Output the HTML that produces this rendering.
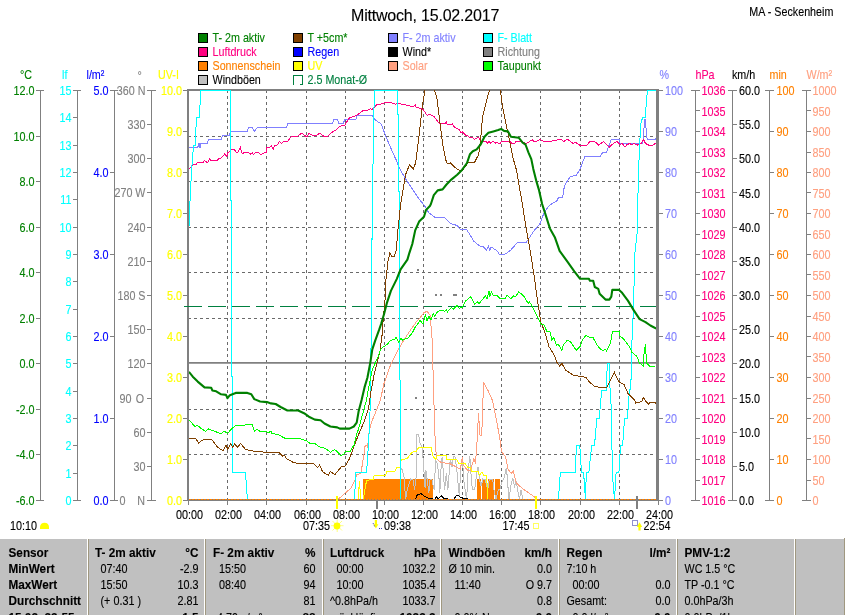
<!DOCTYPE html>
<html lang="de"><head><meta charset="utf-8"><title>Mittwoch, 15.02.2017 - MA - Seckenheim</title>
<style>
html,body{margin:0;padding:0;background:#fff;}
body{width:845px;height:615px;overflow:hidden;font-family:"Liberation Sans", Arial, sans-serif;}
svg{display:block;position:absolute;left:0;top:0;will-change:transform;}
text{font-family:"Liberation Sans", Arial, sans-serif;font-size:12px;stroke-width:0.12px;}
.al{letter-spacing:0;}
.b{font-weight:bold;font-size:12px;}
.c{shape-rendering:crispEdges;fill:none;}
.ax{stroke:#808080;stroke-width:1;shape-rendering:crispEdges;fill:none;}
.gr{stroke:#6a6a6a;stroke-width:1;stroke-dasharray:3 3;shape-rendering:crispEdges;fill:none;}
</style></head><body>
<svg width="845" height="615" viewBox="0 0 845 615">
<defs><clipPath id="pc"><rect x="189" y="90" width="467" height="410"/></clipPath></defs><rect x="0" y="0" width="845" height="615" fill="#ffffff"/>

<text x="351" y="21" style="font-size:16px;letter-spacing:-0.2px" fill="#000" stroke="#000">Mittwoch, 15.02.2017</text>
<text transform="translate(749.3,15.6) scale(0.895,1)" fill="#000" stroke="#000">MA - Seckenheim</text>
<rect x="198.5" y="33.5" width="9" height="9" fill="#008000" stroke="#000" stroke-width="1" shape-rendering="crispEdges"/>
<text transform="translate(212.5,42) scale(0.895,1)" fill="#008000" stroke="#008000">T- 2m aktiv</text>
<rect x="198.5" y="47.5" width="9" height="9" fill="#ff0080" stroke="#000" stroke-width="1" shape-rendering="crispEdges"/>
<text transform="translate(212.5,56) scale(0.895,1)" fill="#ff0080" stroke="#ff0080">Luftdruck</text>
<rect x="198.5" y="61.5" width="9" height="9" fill="#ff8000" stroke="#000" stroke-width="1" shape-rendering="crispEdges"/>
<text transform="translate(212.5,70) scale(0.895,1)" fill="#ff8000" stroke="#ff8000">Sonnenschein</text>
<rect x="198.5" y="75.5" width="9" height="9" fill="#c0c0c0" stroke="#000" stroke-width="1" shape-rendering="crispEdges"/>
<text transform="translate(212.5,84) scale(0.895,1)" fill="#000000" stroke="#000000">Windböen</text>
<rect x="293.5" y="33.5" width="9" height="9" fill="#804000" stroke="#000" stroke-width="1" shape-rendering="crispEdges"/>
<text transform="translate(307.5,42) scale(0.895,1)" fill="#008000" stroke="#008000">T +5cm*</text>
<rect x="293.5" y="47.5" width="9" height="9" fill="#0000ff" stroke="#000" stroke-width="1" shape-rendering="crispEdges"/>
<text transform="translate(307.5,56) scale(0.895,1)" fill="#0000ff" stroke="#0000ff">Regen</text>
<rect x="293.5" y="61.5" width="9" height="9" fill="#ffff00" stroke="#000" stroke-width="1" shape-rendering="crispEdges"/>
<text transform="translate(307.5,70) scale(0.895,1)" fill="#ffff00" stroke="#ffff00">UV</text>
<path d="M293.5 84.5V75.5H302.5V84.5H299.5" fill="none" stroke="#008040" stroke-width="1" shape-rendering="crispEdges"/>
<text transform="translate(307.5,84) scale(0.895,1)" fill="#008040" stroke="#008040">2.5 Monat-Ø</text>
<rect x="388.5" y="33.5" width="9" height="9" fill="#8080ff" stroke="#000" stroke-width="1" shape-rendering="crispEdges"/>
<text transform="translate(402.5,42) scale(0.895,1)" fill="#8080ff" stroke="#8080ff">F- 2m aktiv</text>
<rect x="388.5" y="47.5" width="9" height="9" fill="#000000" stroke="#000" stroke-width="1" shape-rendering="crispEdges"/>
<text transform="translate(402.5,56) scale(0.895,1)" fill="#000000" stroke="#000000">Wind*</text>
<rect x="388.5" y="61.5" width="9" height="9" fill="#ffa080" stroke="#000" stroke-width="1" shape-rendering="crispEdges"/>
<text transform="translate(402.5,70) scale(0.895,1)" fill="#ffa080" stroke="#ffa080">Solar</text>
<rect x="483.5" y="33.5" width="9" height="9" fill="#00ffff" stroke="#000" stroke-width="1" shape-rendering="crispEdges"/>
<text transform="translate(497.5,42) scale(0.895,1)" fill="#00ffff" stroke="#00ffff">F- Blatt</text>
<rect x="483.5" y="47.5" width="9" height="9" fill="#808080" stroke="#000" stroke-width="1" shape-rendering="crispEdges"/>
<text transform="translate(497.5,56) scale(0.895,1)" fill="#808080" stroke="#808080">Richtung</text>
<rect x="483.5" y="61.5" width="9" height="9" fill="#00ff00" stroke="#000" stroke-width="1" shape-rendering="crispEdges"/>
<text transform="translate(497.5,70) scale(0.895,1)" fill="#008000" stroke="#008000">Taupunkt</text>
<line class="gr" x1="227.5" y1="90" x2="227.5" y2="499"/>
<line class="gr" x1="266.5" y1="90" x2="266.5" y2="499"/>
<line class="gr" x1="306.5" y1="90" x2="306.5" y2="499"/>
<line class="gr" x1="345.5" y1="90" x2="345.5" y2="499"/>
<line class="gr" x1="384.5" y1="90" x2="384.5" y2="499"/>
<line class="gr" x1="423.5" y1="90" x2="423.5" y2="499"/>
<line class="gr" x1="462.5" y1="90" x2="462.5" y2="499"/>
<line class="gr" x1="501.5" y1="90" x2="501.5" y2="499"/>
<line class="gr" x1="540.5" y1="90" x2="540.5" y2="499"/>
<line class="gr" x1="580.5" y1="90" x2="580.5" y2="499"/>
<line class="gr" x1="619.5" y1="90" x2="619.5" y2="499"/>
<line class="gr" x1="188" y1="454.5" x2="656" y2="454.5"/>
<line class="gr" x1="188" y1="409.5" x2="656" y2="409.5"/>
<line class="gr" x1="188" y1="318.5" x2="656" y2="318.5"/>
<line class="gr" x1="188" y1="272.5" x2="656" y2="272.5"/>
<line class="gr" x1="188" y1="227.5" x2="656" y2="227.5"/>
<line class="gr" x1="188" y1="181.5" x2="656" y2="181.5"/>
<line class="gr" x1="188" y1="136.5" x2="656" y2="136.5"/>
<rect x="187" y="89" width="2" height="412" fill="#808080" shape-rendering="crispEdges"/>
<rect x="656" y="89" width="3" height="412" fill="#808080" shape-rendering="crispEdges"/>
<rect x="187" y="89" width="472" height="2" fill="#808080" shape-rendering="crispEdges"/>
<rect x="187" y="500" width="472" height="1" fill="#808080" shape-rendering="crispEdges"/>
<g clip-path="url(#pc)"><rect x="189" y="362" width="467" height="1" fill="#808080" shape-rendering="crispEdges"/><rect x="189" y="363" width="467" height="1" fill="#a0a0a0" shape-rendering="crispEdges"/>
<line x1="184" y1="306.5" x2="656" y2="306.5" stroke="#008040" stroke-width="1" stroke-dasharray="18 6" shape-rendering="crispEdges"/>
<rect x="363" y="479" width="70" height="21" fill="#ff8000" shape-rendering="crispEdges"/>
<rect x="477" y="479" width="4" height="21" fill="#ff8000" shape-rendering="crispEdges"/>
<rect x="482" y="479" width="5" height="21" fill="#ff8000" shape-rendering="crispEdges"/>
<rect x="488" y="479" width="6" height="21" fill="#ff8000" shape-rendering="crispEdges"/>
<rect x="494.6" y="479" width="5.399999999999977" height="21" fill="#ff8000" shape-rendering="crispEdges"/>
<rect x="417" y="269" width="2" height="2" fill="#808080" shape-rendering="crispEdges"/>
<rect x="435" y="294" width="2" height="2" fill="#808080" shape-rendering="crispEdges"/>
<rect x="440" y="294" width="2" height="2" fill="#808080" shape-rendering="crispEdges"/>
<rect x="415" y="397" width="2" height="2" fill="#808080" shape-rendering="crispEdges"/>
<rect x="453" y="294" width="4" height="2" fill="#808080" shape-rendering="crispEdges"/>
<polyline class="c" points="401.5,467.6 404.0,476.5 405.6,499.3 407.2,489.6 410.5,479.0 412.9,479.8 414.6,489.6 416.2,476.5 417.0,434.3 418.6,434.3 420.2,444.0 421.9,445.7 422.7,453.8 424.3,476.5 425.1,487.9 425.9,470.0 427.6,483.0 428.9,492.8 430.0,479.8 432.0,480.0 434.1,489.6 435.7,460.3 437.3,463.5 438.9,476.5 439.8,492.8 441.4,461.9 442.2,457.0 444.6,489.6 446.3,473.3 447.9,489.6 450.3,458.7 452.0,466.8 453.6,456.2 455.2,457.0 456.8,470.0 459.3,496.0 460.9,466.8 462.5,460.3 464.1,483.0 466.6,499.3 468.2,470.0 469.8,456.2 470.7,470.0 472.3,489.6 474.7,489.6 476.3,476.5 478.0,466.8 479.6,479.8 481.2,486.3 482.8,479.0 485.3,479.8 487.7,489.6 489.3,479.0 492.6,479.0 494.2,491.2 495.9,499.3 498.3,489.6 499.9,489.6 501.5,483.0 504.0,478.2 506.4,467.6 507.2,476.5 508.9,499.3 511.3,483.0 512.9,478.2 514.6,486.3 516.2,481.4 517.8,491.2 519.4,499.3 521.1,489.6 522.7,499.3" stroke="#c0c0c0" stroke-width="1" />
<polyline class="c" points="338.1,499.3 344.6,493.6 351.1,487.9 354.4,481.4 356.8,474.9 360.9,473.3 363.3,458.7 365.0,446.5 366.6,445.3 367.6,447.3 369.0,432.6 371.3,422.6 376.2,410.9 380.1,401.1 384.0,383.5 390.9,364.0 397.7,350.4 403.5,340.6 411.3,328.9 416.2,322.0 420.0,318.0 424.0,312.5 427.0,311.5 430.0,315.0 430.9,325.0 432.2,340.6 432.8,364.0 433.8,393.3 434.3,421.3 435.5,445.7 436.5,458.7 441.4,462.7 449.5,463.5 454.4,466.0 460.1,469.2 462.5,457.0 463.3,465.2 467.4,470.0 470.7,470.0 473.9,458.7 475.5,463.5 477.2,439.1 478.5,413.1 480.1,435.9 481.7,435.9 482.8,405.0 483.5,382.6 488.4,391.3 492.3,400.1 493.4,405.0 496.2,418.7 499.1,434.3 499.9,439.1 501.5,451.3 505.6,457.0 508.0,469.2 511.3,473.3 513.3,470.9 516.2,483.0 522.7,488.7 530.8,494.4 535.7,497.7 537.0,499.3" stroke="#ffa080" stroke-width="1" />
<polyline class="c" points="358.5,499.3 359.3,480.6 360.9,499.3 363.3,499.3 366.6,480.1 373.1,479.8 374.2,475.7 385.3,475.7 386.9,471.7 395.0,471.3 396.7,467.6 399.9,467.6 400.7,461.1 401.5,459.5 407.2,458.7 409.7,455.1 412.1,452.2 416.2,451.3 418.6,447.6 431.6,447.6 432.4,455.4 435.7,459.5 437.3,455.7 446.3,455.7 447.0,459.5 456.8,459.5 458.5,463.2 465.0,463.5 468.2,467.6 470.7,467.6 471.5,471.3 478.0,471.3 479.6,475.2 482.0,471.7 483.7,475.2 486.1,475.7 486.9,479.8 487.7,499.3" stroke="#ffff00" stroke-width="1" />
<polyline class="c" points="415.4,499.3 417.0,495.2 421.1,493.6 424.3,496.0 429.2,498.5 434.9,499.3 436.5,496.9 438.1,498.5 441.4,496.0 443.8,498.5 450.0,499.3 454.0,499.0 456.0,496.0 458.5,495.2 460.9,497.7 465.0,498.5 469.8,499.3" stroke="#000000" stroke-width="1" />
<polyline class="c" points="189.0,147.5 197.7,147.5 199.0,143.5 200.0,147.5 201.0,143.5 207.4,143.5 208.4,139.5 221.0,139.5 222.5,135.5 229.5,135.5 230.5,131.5 247.4,131.5 248.4,127.5 252.3,127.5 254.3,131.5 257.2,127.5 286.5,127.5 288.0,123.5 332.3,123.5 334.0,119.5 337.2,119.5 339.0,123.5 343.0,123.5 345.0,119.5 356.0,119.5 357.0,115.5 372.3,115.5 374.3,119.1 381.1,124.0 386.0,136.7 391.8,150.4 396.7,161.1 398.7,167.0 405.5,178.7 413.3,190.4 419.1,199.1 424.0,205.0 428.9,212.8 434.8,217.1 444.5,217.7 450.4,223.5 457.2,225.5 460.1,229.4 467.0,230.0 473.8,241.1 479.6,246.0 483.5,247.0 486.5,249.9 488.4,246.4 489.8,249.9 491.3,247.0 497.2,250.9 499.1,254.2 505.0,254.2 507.0,252.8 510.9,249.9 517.7,242.1 526.5,242.1 534.3,230.4 540.1,223.5 544.0,212.8 548.9,206.0 552.8,203.0 556.7,201.0 558.7,197.2 562.6,197.2 564.5,185.5 570.4,176.3 576.2,175.7 580.1,168.9 585.0,156.2 600.6,156.2 602.6,152.3 606.5,152.3 611.3,139.2 619.1,139.2 620.1,143.1 642.6,143.1 643.5,137.7 644.5,119.1 645.5,119.1 646.5,135.7 647.4,139.2 655.2,139.2 656.8,136.1" stroke="#8080ff" stroke-width="1" />
<polyline class="c" points="188.0,168.5 190.7,167.7 192.5,164.7 196.0,164.5 197.8,162.3 203.2,162.1 204.3,160.2 206.7,162.3 208.0,162.3 209.4,158.6 210.9,160.2 217.4,160.2 219.1,158.6 221.5,157.8 224.5,154.1 226.8,156.4 228.0,152.6 229.8,151.7 231.0,149.6 234.5,149.6 236.3,152.3 238.0,152.0 240.4,147.2 242.2,154.1 244.0,152.6 248.7,152.6 250.9,154.3 252.3,152.9 253.5,154.3 255.8,152.6 258.4,152.6 260.8,154.6 264.7,152.6 266.2,152.3 266.7,147.5 270.0,147.2 271.4,145.5 273.3,149.3 274.5,146.0 277.1,145.2 279.7,141.3 281.3,143.4 283.6,141.3 286.0,141.0 288.0,141.0 291.0,137.0 294.0,136.5 298.0,136.0 302.0,133.0 304.0,135.0 307.0,137.0 309.0,133.5 313.0,135.5 316.0,136.0 320.0,133.0 324.0,136.5 327.0,137.0 330.0,134.0 333.0,131.5 336.0,130.0 339.0,127.0 342.0,125.5 345.0,125.0 349.0,118.2 356.7,115.2 363.5,110.4 366.0,111.0 370.4,108.8 372.0,109.5 377.2,104.5 381.0,104.0 385.0,102.6 391.8,103.0 395.7,104.1 397.0,103.2 403.5,104.5 408.0,105.5 413.3,106.9 415.2,104.5 416.2,107.4 419.0,108.0 423.0,109.4 427.0,115.2 430.0,114.5 433.8,116.2 438.7,123.0 440.0,123.7 444.9,123.7 446.3,121.8 447.3,124.9 451.2,124.7 452.2,123.7 454.1,126.8 456.1,128.3 459.5,129.8 461.0,132.7 462.4,131.7 465.4,135.1 467.0,135.1 469.3,137.4 472.2,137.4 474.6,139.5 477.6,137.4 479.0,138.0 481.0,141.0 485.9,141.3 487.3,143.4 488.8,141.5 490.7,143.4 492.7,141.3 495.6,143.4 496.2,142.0 498.5,143.4 500.0,143.4 501.5,141.3 510.2,141.3 511.7,143.4 514.6,143.4 516.1,141.5 520.0,141.0 526.5,143.5 532.3,139.6 534.0,141.6 536.2,141.6 540.1,139.6 544.0,141.6 551.8,141.0 561.6,139.2 563.5,141.6 567.4,139.2 573.3,143.5 575.2,142.0 580.1,145.5 587.0,145.1 589.9,141.6 594.8,141.6 598.7,145.1 603.5,141.6 609.4,147.0 614.3,142.6 617.2,141.6 620.1,144.5 622.0,143.5 625.0,147.0 627.0,144.5 629.9,143.5 632.0,145.0 634.0,143.5 637.7,145.1 641.0,143.5 643.5,139.6 645.5,143.5 649.4,145.5 652.0,145.5 655.2,143.5 656.0,143.5" stroke="#ff0080" stroke-width="1" />
<polyline class="c" points="189.0,226.5 189.8,205.0 191.3,175.0 193.1,150.5 193.7,145.3 195.2,145.3 195.7,130.4 196.9,117.3 199.6,117.3 200.5,90.5 230.5,90.5 230.5,200.0 231.5,200.0 231.5,376.0 232.5,376.0 232.5,472.7 245.5,472.7 247.4,499.5 354.4,499.5 356.0,472.7 366.6,472.7 368.4,445.0 369.0,434.3 370.3,405.0 371.3,325.0 372.3,205.0 374.3,90.5 397.7,90.5 399.2,205.0 399.6,325.0 400.2,405.0 400.4,499.5 558.4,499.5 560.3,472.7 575.0,472.7 576.6,445.3 579.8,445.3 581.5,472.7 583.6,472.7 585.5,499.5 586.3,472.7 588.8,472.7 591.7,445.3 594.5,445.3 596.9,418.0 599.3,418.0 601.6,390.7 606.1,390.7 607.4,363.3 609.4,363.3 610.4,403.0 611.5,405.0 611.9,445.7 612.8,479.8 614.5,499.5 616.1,472.7 618.9,472.7 620.5,445.3 622.6,445.3 624.6,418.0 627.5,418.0 628.9,397.2 629.9,390.7 631.4,375.7 631.8,344.5 632.8,324.0 633.8,294.8 634.8,253.8 637.7,228.4 637.7,205.0 638.7,167.0 640.6,125.0 642.6,117.2 645.1,117.2 647.4,90.5 656.0,90.5" stroke="#00ffff" stroke-width="1" />
<polyline class="c" points="188.9,438.3 195.7,438.3 198.7,443.0 201.6,440.6 206.5,439.0 211.3,439.0 217.2,446.9 223.0,450.8 226.0,445.5 227.9,449.4 230.9,443.5 232.8,447.4 234.8,443.5 237.3,447.4 240.6,443.5 245.5,449.4 257.2,451.9 278.7,452.3 282.6,456.2 284.5,455.2 286.5,458.6 293.3,462.5 298.2,463.4 313.8,463.6 317.7,467.5 319.6,465.0 322.6,471.8 328.4,475.3 330.4,471.4 334.9,474.9 336.5,472.5 341.4,466.8 345.4,466.0 349.5,458.7 352.8,449.7 354.8,444.0 358.7,434.3 364.5,420.6 368.4,408.9 371.3,389.4 374.3,373.8 377.2,362.1 380.1,350.4 382.1,334.8 382.7,325.0 385.0,300.6 386.0,279.1 387.9,261.6 389.9,252.8 391.8,256.2 394.2,256.7 396.1,250.9 398.1,228.4 400.6,205.0 405.5,174.8 409.4,165.0 413.3,168.9 415.6,163.0 419.1,135.7 422.1,108.4 425.2,88.0 426.0,70.0 433.0,70.0 433.6,88.0 436.7,96.7 439.6,120.1 442.6,143.5 445.5,159.1 447.4,164.0 450.4,162.7 454.3,167.0 460.1,170.9 462.0,170.9 467.9,163.0 474.8,162.0 478.7,154.3 480.6,139.6 482.6,116.2 484.5,109.4 488.4,93.8 490.6,88.0 491.5,70.0 499.5,70.0 500.0,88.0 502.0,102.6 504.0,114.3 505.0,119.1 508.9,137.7 512.8,157.2 516.7,170.9 519.6,188.4 522.6,205.0 525.5,224.5 530.4,251.8 534.3,277.2 537.2,298.7 541.1,324.0 542.1,325.0 545.0,332.8 548.9,346.5 554.8,356.2 556.7,362.1 559.6,366.0 562.0,363.6 565.5,369.9 573.3,375.3 579.1,376.1 586.0,377.3 588.9,381.6 594.8,386.5 602.6,387.8 606.5,387.8 610.4,380.6 614.3,372.2 618.2,380.6 620.1,382.6 624.0,384.5 627.9,393.3 634.8,400.1 635.7,403.0 641.6,401.5 643.5,397.6 646.5,402.1 648.4,404.0 650.4,402.1 655.2,402.7 656.8,405.4" stroke="#804000" stroke-width="1" />
<polyline class="c" points="188.9,419.6 194.8,426.5 197.7,425.5 200.6,428.0 205.5,431.3 208.4,429.0 212.3,430.4 216.2,431.9 221.1,433.9 224.0,431.3 227.9,433.3 230.9,429.4 235.7,425.5 247.4,424.9 252.3,424.5 254.3,431.3 257.2,429.4 260.1,431.3 267.0,431.9 268.9,432.4 270.9,431.2 271.8,433.2 278.7,434.9 284.5,438.0 298.2,438.0 306.0,440.5 309.9,443.3 314.8,443.5 319.6,446.9 325.5,448.4 330.4,452.3 334.3,449.6 337.2,451.5 340.6,455.4 343.8,454.6 345.4,451.3 350.3,451.3 354.4,444.0 356.7,434.3 358.7,428.4 363.5,410.9 366.5,400.1 369.4,383.5 372.3,369.9 375.2,363.0 378.2,356.2 381.1,348.4 387.0,344.5 390.9,340.2 394.8,339.6 396.1,337.1 398.7,342.6 400.6,338.3 402.6,340.2 408.4,337.7 412.3,332.8 415.2,327.0 417.2,325.0 420.0,320.0 423.0,324.0 425.4,314.3 427.0,321.1 428.9,316.2 430.9,320.1 433.2,313.3 434.8,316.2 437.7,311.3 442.6,310.4 444.5,311.3 446.5,309.4 447.4,311.9 451.3,307.4 453.3,309.4 457.2,305.5 459.1,308.4 462.0,307.4 466.0,300.6 470.9,296.7 474.8,304.5 477.3,301.6 479.2,303.5 485.5,295.7 487.0,298.7 489.0,290.9 489.8,296.7 491.3,291.8 493.3,295.7 497.2,295.7 500.1,298.7 505.0,298.7 507.3,295.1 510.9,298.7 513.8,295.7 515.7,296.7 518.7,291.8 523.5,295.7 526.5,300.6 528.4,303.5 529.4,301.6 532.3,306.5 537.2,316.2 541.1,324.0 544.0,325.0 547.0,331.8 549.9,331.8 551.8,339.6 553.8,337.7 556.7,345.5 558.1,344.1 562.0,350.4 563.5,344.5 567.4,340.2 570.4,341.6 576.2,350.4 580.1,346.5 582.1,340.6 586.0,335.1 588.9,337.1 592.8,337.1 596.7,344.5 600.6,349.4 603.5,350.4 605.5,349.4 606.5,351.3 610.4,343.5 612.3,331.8 619.1,331.2 620.1,336.7 623.0,338.3 629.9,347.4 631.8,352.3 636.7,356.2 639.6,363.0 643.1,366.0 643.9,354.3 645.5,344.5 646.5,363.0 649.4,366.0 655.2,367.0" stroke="#00ff00" stroke-width="1" />
<polyline class="c" points="188.9,371.8 192.8,376.7 197.7,381.6 204.5,387.4 211.3,387.8 212.3,390.4 216.2,391.3 221.1,394.3 226.0,394.9 227.5,398.2 229.9,395.2 235.7,392.9 247.4,392.9 251.3,394.3 254.3,399.1 260.1,401.5 267.0,402.1 270.9,403.4 275.7,404.0 280.6,407.0 287.4,410.5 298.2,410.5 304.0,413.2 308.9,416.7 314.8,419.6 320.6,420.2 324.5,423.5 330.4,426.5 337.2,427.4 339.8,428.6 349.5,428.6 353.8,426.5 356.7,422.6 358.7,410.9 361.6,400.1 364.5,387.4 367.4,377.7 370.4,362.1 372.3,349.4 375.2,340.6 379.1,329.9 381.1,324.0 384.0,314.3 387.0,302.6 390.9,290.9 396.7,279.1 400.6,269.4 407.4,259.6 409.4,252.8 412.3,244.0 415.2,230.4 419.1,221.6 424.0,216.7 426.0,209.9 429.9,206.0 430.9,204.0 433.8,195.2 437.7,190.4 442.6,189.4 446.5,184.5 451.3,179.6 457.2,174.8 462.0,169.9 467.0,163.0 469.9,154.3 472.8,151.3 476.7,149.4 480.6,144.5 484.5,136.7 488.4,132.8 493.3,131.4 498.2,129.9 501.1,128.9 504.0,130.9 508.0,131.4 510.9,136.7 518.7,137.7 522.6,142.6 525.5,144.5 528.4,152.3 531.3,159.1 533.3,168.9 536.2,180.6 539.1,190.4 542.1,204.0 545.0,212.8 549.9,228.4 554.8,237.2 559.6,250.9 567.4,261.6 574.3,271.3 580.1,278.8 588.9,278.8 589.9,280.7 593.2,280.7 594.8,287.0 598.3,288.9 599.6,293.8 605.5,299.6 609.4,299.6 611.3,296.7 612.3,289.9 619.1,289.9 622.1,292.8 627.9,300.6 633.8,310.4 639.6,319.1 645.5,322.1 650.4,325.5 656.2,328.5" stroke="#008000" stroke-width="2.1" stroke-linejoin="round" style="shape-rendering:geometricPrecision"/>
<rect x="189" y="499" width="467" height="1" fill="#808080" shape-rendering="crispEdges"/>
<line x1="189" y1="499.5" x2="656" y2="499.5" stroke="#ff8000" stroke-width="1" stroke-dasharray="2 1" shape-rendering="crispEdges"/></g>
<rect x="184" y="306" width="5" height="1" fill="#008040" shape-rendering="crispEdges"/>
<line class="ax" x1="40.5" y1="90" x2="40.5" y2="501"/>
<line class="ax" x1="36" y1="500.5" x2="44" y2="500.5"/>
<line class="ax" x1="36" y1="454.5" x2="40" y2="454.5"/>
<line class="ax" x1="36" y1="409.5" x2="40" y2="409.5"/>
<line class="ax" x1="36" y1="363.5" x2="40" y2="363.5"/>
<line class="ax" x1="36" y1="318.5" x2="40" y2="318.5"/>
<line class="ax" x1="36" y1="272.5" x2="40" y2="272.5"/>
<line class="ax" x1="36" y1="227.5" x2="40" y2="227.5"/>
<line class="ax" x1="36" y1="181.5" x2="40" y2="181.5"/>
<line class="ax" x1="36" y1="136.5" x2="40" y2="136.5"/>
<line class="ax" x1="36" y1="90.5" x2="44" y2="90.5"/>
<text transform="translate(34.5,505.0) scale(0.9,1)" class="al" fill="#008000" stroke="#008000" text-anchor="end">-6.0</text>
<text transform="translate(34.5,459.4) scale(0.9,1)" class="al" fill="#008000" stroke="#008000" text-anchor="end">-4.0</text>
<text transform="translate(34.5,413.9) scale(0.9,1)" class="al" fill="#008000" stroke="#008000" text-anchor="end">-2.0</text>
<text transform="translate(34.5,368.3) scale(0.9,1)" class="al" fill="#008000" stroke="#008000" text-anchor="end">0.0</text>
<text transform="translate(34.5,322.8) scale(0.9,1)" class="al" fill="#008000" stroke="#008000" text-anchor="end">2.0</text>
<text transform="translate(34.5,277.2) scale(0.9,1)" class="al" fill="#008000" stroke="#008000" text-anchor="end">4.0</text>
<text transform="translate(34.5,231.7) scale(0.9,1)" class="al" fill="#008000" stroke="#008000" text-anchor="end">6.0</text>
<text transform="translate(34.5,186.1) scale(0.9,1)" class="al" fill="#008000" stroke="#008000" text-anchor="end">8.0</text>
<text transform="translate(34.5,140.6) scale(0.9,1)" class="al" fill="#008000" stroke="#008000" text-anchor="end">10.0</text>
<text transform="translate(34.5,95.0) scale(0.9,1)" class="al" fill="#008000" stroke="#008000" text-anchor="end">12.0</text>
<text transform="translate(20,78.5) scale(0.895,1)" fill="#008000" stroke="#008000">°C</text>
<line class="ax" x1="77.5" y1="90" x2="77.5" y2="501"/>
<line class="ax" x1="73" y1="500.5" x2="81" y2="500.5"/>
<line class="ax" x1="73" y1="473.5" x2="77" y2="473.5"/>
<line class="ax" x1="73" y1="445.5" x2="77" y2="445.5"/>
<line class="ax" x1="73" y1="418.5" x2="77" y2="418.5"/>
<line class="ax" x1="73" y1="391.5" x2="77" y2="391.5"/>
<line class="ax" x1="73" y1="363.5" x2="77" y2="363.5"/>
<line class="ax" x1="73" y1="336.5" x2="77" y2="336.5"/>
<line class="ax" x1="73" y1="309.5" x2="77" y2="309.5"/>
<line class="ax" x1="73" y1="281.5" x2="77" y2="281.5"/>
<line class="ax" x1="73" y1="254.5" x2="77" y2="254.5"/>
<line class="ax" x1="73" y1="227.5" x2="77" y2="227.5"/>
<line class="ax" x1="73" y1="199.5" x2="77" y2="199.5"/>
<line class="ax" x1="73" y1="172.5" x2="77" y2="172.5"/>
<line class="ax" x1="73" y1="145.5" x2="77" y2="145.5"/>
<line class="ax" x1="73" y1="117.5" x2="77" y2="117.5"/>
<line class="ax" x1="73" y1="90.5" x2="81" y2="90.5"/>
<text transform="translate(71.5,505.0) scale(0.9,1)" class="al" fill="#00ffff" stroke="#00ffff" text-anchor="end">0</text>
<text transform="translate(71.5,477.7) scale(0.9,1)" class="al" fill="#00ffff" stroke="#00ffff" text-anchor="end">1</text>
<text transform="translate(71.5,450.3) scale(0.9,1)" class="al" fill="#00ffff" stroke="#00ffff" text-anchor="end">2</text>
<text transform="translate(71.5,423.0) scale(0.9,1)" class="al" fill="#00ffff" stroke="#00ffff" text-anchor="end">3</text>
<text transform="translate(71.5,395.7) scale(0.9,1)" class="al" fill="#00ffff" stroke="#00ffff" text-anchor="end">4</text>
<text transform="translate(71.5,368.3) scale(0.9,1)" class="al" fill="#00ffff" stroke="#00ffff" text-anchor="end">5</text>
<text transform="translate(71.5,341.0) scale(0.9,1)" class="al" fill="#00ffff" stroke="#00ffff" text-anchor="end">6</text>
<text transform="translate(71.5,313.7) scale(0.9,1)" class="al" fill="#00ffff" stroke="#00ffff" text-anchor="end">7</text>
<text transform="translate(71.5,286.3) scale(0.9,1)" class="al" fill="#00ffff" stroke="#00ffff" text-anchor="end">8</text>
<text transform="translate(71.5,259.0) scale(0.9,1)" class="al" fill="#00ffff" stroke="#00ffff" text-anchor="end">9</text>
<text transform="translate(71.5,231.7) scale(0.9,1)" class="al" fill="#00ffff" stroke="#00ffff" text-anchor="end">10</text>
<text transform="translate(71.5,204.3) scale(0.9,1)" class="al" fill="#00ffff" stroke="#00ffff" text-anchor="end">11</text>
<text transform="translate(71.5,177.0) scale(0.9,1)" class="al" fill="#00ffff" stroke="#00ffff" text-anchor="end">12</text>
<text transform="translate(71.5,149.7) scale(0.9,1)" class="al" fill="#00ffff" stroke="#00ffff" text-anchor="end">13</text>
<text transform="translate(71.5,122.3) scale(0.9,1)" class="al" fill="#00ffff" stroke="#00ffff" text-anchor="end">14</text>
<text transform="translate(71.5,95.0) scale(0.9,1)" class="al" fill="#00ffff" stroke="#00ffff" text-anchor="end">15</text>
<text transform="translate(62,78.5) scale(0.895,1)" fill="#00ffff" stroke="#00ffff">lf</text>
<line class="ax" x1="114.5" y1="90" x2="114.5" y2="501"/>
<line class="ax" x1="110" y1="500.5" x2="118" y2="500.5"/>
<line class="ax" x1="110" y1="418.5" x2="114" y2="418.5"/>
<line class="ax" x1="110" y1="336.5" x2="114" y2="336.5"/>
<line class="ax" x1="110" y1="254.5" x2="114" y2="254.5"/>
<line class="ax" x1="110" y1="172.5" x2="114" y2="172.5"/>
<line class="ax" x1="110" y1="90.5" x2="118" y2="90.5"/>
<text transform="translate(108.5,505.0) scale(0.9,1)" class="al" fill="#0000ff" stroke="#0000ff" text-anchor="end">0.0</text>
<text transform="translate(108.5,423.0) scale(0.9,1)" class="al" fill="#0000ff" stroke="#0000ff" text-anchor="end">1.0</text>
<text transform="translate(108.5,341.0) scale(0.9,1)" class="al" fill="#0000ff" stroke="#0000ff" text-anchor="end">2.0</text>
<text transform="translate(108.5,259.0) scale(0.9,1)" class="al" fill="#0000ff" stroke="#0000ff" text-anchor="end">3.0</text>
<text transform="translate(108.5,177.0) scale(0.9,1)" class="al" fill="#0000ff" stroke="#0000ff" text-anchor="end">4.0</text>
<text transform="translate(108.5,95.0) scale(0.9,1)" class="al" fill="#0000ff" stroke="#0000ff" text-anchor="end">5.0</text>
<text transform="translate(86.5,78.5) scale(0.895,1)" fill="#0000ff" stroke="#0000ff">l/m²</text>
<line class="ax" x1="151.5" y1="90" x2="151.5" y2="501"/>
<line class="ax" x1="147" y1="500.5" x2="156" y2="500.5"/>
<text transform="translate(119.5,505) scale(0.9,1)" fill="#808080" stroke="#808080">0</text><text transform="translate(145,505) scale(0.895,1)" fill="#808080" stroke="#808080" text-anchor="end">N</text>
<line class="ax" x1="147" y1="466.5" x2="151" y2="466.5"/>
<text transform="translate(145.5,471) scale(0.9,1)" fill="#808080" stroke="#808080" text-anchor="end" class="al">30</text>
<line class="ax" x1="147" y1="432.5" x2="151" y2="432.5"/>
<text transform="translate(145.5,437) scale(0.9,1)" fill="#808080" stroke="#808080" text-anchor="end" class="al">60</text>
<line class="ax" x1="147" y1="398.5" x2="151" y2="398.5"/>
<text transform="translate(119.5,403) scale(0.9,1)" fill="#808080" stroke="#808080">90</text><text transform="translate(144,403) scale(0.895,1)" fill="#808080" stroke="#808080" text-anchor="end">O</text>
<line class="ax" x1="147" y1="363.5" x2="151" y2="363.5"/>
<text transform="translate(145.5,368) scale(0.9,1)" fill="#808080" stroke="#808080" text-anchor="end" class="al">120</text>
<line class="ax" x1="147" y1="329.5" x2="151" y2="329.5"/>
<text transform="translate(145.5,334) scale(0.9,1)" fill="#808080" stroke="#808080" text-anchor="end" class="al">150</text>
<line class="ax" x1="147" y1="295.5" x2="151" y2="295.5"/>
<text transform="translate(145.5,300) scale(0.895,1)" fill="#808080" stroke="#808080" text-anchor="end">180 S</text>
<line class="ax" x1="147" y1="261.5" x2="151" y2="261.5"/>
<text transform="translate(145.5,266) scale(0.9,1)" fill="#808080" stroke="#808080" text-anchor="end" class="al">210</text>
<line class="ax" x1="147" y1="227.5" x2="151" y2="227.5"/>
<text transform="translate(145.5,232) scale(0.9,1)" fill="#808080" stroke="#808080" text-anchor="end" class="al">240</text>
<line class="ax" x1="147" y1="192.5" x2="151" y2="192.5"/>
<text transform="translate(145.5,197) scale(0.895,1)" fill="#808080" stroke="#808080" text-anchor="end">270 W</text>
<line class="ax" x1="147" y1="158.5" x2="151" y2="158.5"/>
<text transform="translate(145.5,163) scale(0.9,1)" fill="#808080" stroke="#808080" text-anchor="end" class="al">300</text>
<line class="ax" x1="147" y1="124.5" x2="151" y2="124.5"/>
<text transform="translate(145.5,129) scale(0.9,1)" fill="#808080" stroke="#808080" text-anchor="end" class="al">330</text>
<line class="ax" x1="147" y1="90.5" x2="156" y2="90.5"/>
<text transform="translate(145.5,95) scale(0.895,1)" fill="#808080" stroke="#808080" text-anchor="end">360 N</text>
<text transform="translate(137.5,80) scale(0.895,1)" fill="#808080" stroke="#808080">°</text>
<line class="ax" x1="183" y1="500.5" x2="188" y2="500.5"/>
<text transform="translate(182,505) scale(0.9,1)" class="al" fill="#ffff00" stroke="#ffff00" text-anchor="end">0.0</text>
<line class="ax" x1="183" y1="459.5" x2="188" y2="459.5"/>
<text transform="translate(182,464) scale(0.9,1)" class="al" fill="#ffff00" stroke="#ffff00" text-anchor="end">1.0</text>
<line class="ax" x1="183" y1="418.5" x2="188" y2="418.5"/>
<text transform="translate(182,423) scale(0.9,1)" class="al" fill="#ffff00" stroke="#ffff00" text-anchor="end">2.0</text>
<line class="ax" x1="183" y1="377.5" x2="188" y2="377.5"/>
<text transform="translate(182,382) scale(0.9,1)" class="al" fill="#ffff00" stroke="#ffff00" text-anchor="end">3.0</text>
<line class="ax" x1="183" y1="336.5" x2="188" y2="336.5"/>
<text transform="translate(182,341) scale(0.9,1)" class="al" fill="#ffff00" stroke="#ffff00" text-anchor="end">4.0</text>
<line class="ax" x1="183" y1="295.5" x2="188" y2="295.5"/>
<text transform="translate(182,300) scale(0.9,1)" class="al" fill="#ffff00" stroke="#ffff00" text-anchor="end">5.0</text>
<line class="ax" x1="183" y1="254.5" x2="188" y2="254.5"/>
<text transform="translate(182,259) scale(0.9,1)" class="al" fill="#ffff00" stroke="#ffff00" text-anchor="end">6.0</text>
<line class="ax" x1="183" y1="213.5" x2="188" y2="213.5"/>
<text transform="translate(182,218) scale(0.9,1)" class="al" fill="#ffff00" stroke="#ffff00" text-anchor="end">7.0</text>
<line class="ax" x1="183" y1="172.5" x2="188" y2="172.5"/>
<text transform="translate(182,177) scale(0.9,1)" class="al" fill="#ffff00" stroke="#ffff00" text-anchor="end">8.0</text>
<line class="ax" x1="183" y1="131.5" x2="188" y2="131.5"/>
<text transform="translate(182,136) scale(0.9,1)" class="al" fill="#ffff00" stroke="#ffff00" text-anchor="end">9.0</text>
<line class="ax" x1="183" y1="90.5" x2="188" y2="90.5"/>
<text transform="translate(182,95) scale(0.9,1)" class="al" fill="#ffff00" stroke="#ffff00" text-anchor="end">10.0</text>
<text transform="translate(158,78.5) scale(0.895,1)" fill="#ffff00" stroke="#ffff00">UV-I</text>
<line class="ax" x1="658" y1="500.5" x2="663" y2="500.5"/>
<line class="ax" x1="658" y1="459.5" x2="663" y2="459.5"/>
<line class="ax" x1="658" y1="418.5" x2="663" y2="418.5"/>
<line class="ax" x1="658" y1="377.5" x2="663" y2="377.5"/>
<line class="ax" x1="658" y1="336.5" x2="663" y2="336.5"/>
<line class="ax" x1="658" y1="295.5" x2="663" y2="295.5"/>
<line class="ax" x1="658" y1="254.5" x2="663" y2="254.5"/>
<line class="ax" x1="658" y1="213.5" x2="663" y2="213.5"/>
<line class="ax" x1="658" y1="172.5" x2="663" y2="172.5"/>
<line class="ax" x1="658" y1="131.5" x2="663" y2="131.5"/>
<line class="ax" x1="658" y1="90.5" x2="663" y2="90.5"/>
<text transform="translate(665,505.0) scale(0.9,1)" class="al" fill="#8080ff" stroke="#8080ff">0</text>
<text transform="translate(665,464.0) scale(0.9,1)" class="al" fill="#8080ff" stroke="#8080ff">10</text>
<text transform="translate(665,423.0) scale(0.9,1)" class="al" fill="#8080ff" stroke="#8080ff">20</text>
<text transform="translate(665,382.0) scale(0.9,1)" class="al" fill="#8080ff" stroke="#8080ff">30</text>
<text transform="translate(665,341.0) scale(0.9,1)" class="al" fill="#8080ff" stroke="#8080ff">40</text>
<text transform="translate(665,300.0) scale(0.9,1)" class="al" fill="#8080ff" stroke="#8080ff">50</text>
<text transform="translate(665,259.0) scale(0.9,1)" class="al" fill="#8080ff" stroke="#8080ff">60</text>
<text transform="translate(665,218.0) scale(0.9,1)" class="al" fill="#8080ff" stroke="#8080ff">70</text>
<text transform="translate(665,177.0) scale(0.9,1)" class="al" fill="#8080ff" stroke="#8080ff">80</text>
<text transform="translate(665,136.0) scale(0.9,1)" class="al" fill="#8080ff" stroke="#8080ff">90</text>
<text transform="translate(665,95.0) scale(0.9,1)" class="al" fill="#8080ff" stroke="#8080ff">100</text>
<text transform="translate(659.5,78.5) scale(0.895,1)" fill="#8080ff" stroke="#8080ff">%</text>
<line class="ax" x1="695.5" y1="90" x2="695.5" y2="501"/>
<line class="ax" x1="691" y1="500.5" x2="700" y2="500.5"/>
<line class="ax" x1="695" y1="480.5" x2="700" y2="480.5"/>
<line class="ax" x1="695" y1="459.5" x2="700" y2="459.5"/>
<line class="ax" x1="695" y1="438.5" x2="700" y2="438.5"/>
<line class="ax" x1="695" y1="418.5" x2="700" y2="418.5"/>
<line class="ax" x1="695" y1="398.5" x2="700" y2="398.5"/>
<line class="ax" x1="695" y1="377.5" x2="700" y2="377.5"/>
<line class="ax" x1="695" y1="356.5" x2="700" y2="356.5"/>
<line class="ax" x1="695" y1="336.5" x2="700" y2="336.5"/>
<line class="ax" x1="695" y1="316.5" x2="700" y2="316.5"/>
<line class="ax" x1="695" y1="295.5" x2="700" y2="295.5"/>
<line class="ax" x1="695" y1="274.5" x2="700" y2="274.5"/>
<line class="ax" x1="695" y1="254.5" x2="700" y2="254.5"/>
<line class="ax" x1="695" y1="234.5" x2="700" y2="234.5"/>
<line class="ax" x1="695" y1="213.5" x2="700" y2="213.5"/>
<line class="ax" x1="695" y1="192.5" x2="700" y2="192.5"/>
<line class="ax" x1="695" y1="172.5" x2="700" y2="172.5"/>
<line class="ax" x1="695" y1="152.5" x2="700" y2="152.5"/>
<line class="ax" x1="695" y1="131.5" x2="700" y2="131.5"/>
<line class="ax" x1="695" y1="110.5" x2="700" y2="110.5"/>
<line class="ax" x1="691" y1="90.5" x2="700" y2="90.5"/>
<text transform="translate(701.5,505.0) scale(0.9,1)" class="al" fill="#ff0080" stroke="#ff0080">1016</text>
<text transform="translate(701.5,484.5) scale(0.9,1)" class="al" fill="#ff0080" stroke="#ff0080">1017</text>
<text transform="translate(701.5,464.0) scale(0.9,1)" class="al" fill="#ff0080" stroke="#ff0080">1018</text>
<text transform="translate(701.5,443.5) scale(0.9,1)" class="al" fill="#ff0080" stroke="#ff0080">1019</text>
<text transform="translate(701.5,423.0) scale(0.9,1)" class="al" fill="#ff0080" stroke="#ff0080">1020</text>
<text transform="translate(701.5,402.5) scale(0.9,1)" class="al" fill="#ff0080" stroke="#ff0080">1021</text>
<text transform="translate(701.5,382.0) scale(0.9,1)" class="al" fill="#ff0080" stroke="#ff0080">1022</text>
<text transform="translate(701.5,361.5) scale(0.9,1)" class="al" fill="#ff0080" stroke="#ff0080">1023</text>
<text transform="translate(701.5,341.0) scale(0.9,1)" class="al" fill="#ff0080" stroke="#ff0080">1024</text>
<text transform="translate(701.5,320.5) scale(0.9,1)" class="al" fill="#ff0080" stroke="#ff0080">1025</text>
<text transform="translate(701.5,300.0) scale(0.9,1)" class="al" fill="#ff0080" stroke="#ff0080">1026</text>
<text transform="translate(701.5,279.5) scale(0.9,1)" class="al" fill="#ff0080" stroke="#ff0080">1027</text>
<text transform="translate(701.5,259.0) scale(0.9,1)" class="al" fill="#ff0080" stroke="#ff0080">1028</text>
<text transform="translate(701.5,238.5) scale(0.9,1)" class="al" fill="#ff0080" stroke="#ff0080">1029</text>
<text transform="translate(701.5,218.0) scale(0.9,1)" class="al" fill="#ff0080" stroke="#ff0080">1030</text>
<text transform="translate(701.5,197.5) scale(0.9,1)" class="al" fill="#ff0080" stroke="#ff0080">1031</text>
<text transform="translate(701.5,177.0) scale(0.9,1)" class="al" fill="#ff0080" stroke="#ff0080">1032</text>
<text transform="translate(701.5,156.5) scale(0.9,1)" class="al" fill="#ff0080" stroke="#ff0080">1033</text>
<text transform="translate(701.5,136.0) scale(0.9,1)" class="al" fill="#ff0080" stroke="#ff0080">1034</text>
<text transform="translate(701.5,115.5) scale(0.9,1)" class="al" fill="#ff0080" stroke="#ff0080">1035</text>
<text transform="translate(701.5,95.0) scale(0.9,1)" class="al" fill="#ff0080" stroke="#ff0080">1036</text>
<text transform="translate(695.5,78.5) scale(0.895,1)" fill="#ff0080" stroke="#ff0080">hPa</text>
<line class="ax" x1="732.5" y1="90" x2="732.5" y2="501"/>
<line class="ax" x1="728" y1="500.5" x2="737" y2="500.5"/>
<line class="ax" x1="732" y1="466.5" x2="737" y2="466.5"/>
<line class="ax" x1="732" y1="432.5" x2="737" y2="432.5"/>
<line class="ax" x1="732" y1="398.5" x2="737" y2="398.5"/>
<line class="ax" x1="732" y1="363.5" x2="737" y2="363.5"/>
<line class="ax" x1="732" y1="329.5" x2="737" y2="329.5"/>
<line class="ax" x1="732" y1="295.5" x2="737" y2="295.5"/>
<line class="ax" x1="732" y1="261.5" x2="737" y2="261.5"/>
<line class="ax" x1="732" y1="227.5" x2="737" y2="227.5"/>
<line class="ax" x1="732" y1="192.5" x2="737" y2="192.5"/>
<line class="ax" x1="732" y1="158.5" x2="737" y2="158.5"/>
<line class="ax" x1="732" y1="124.5" x2="737" y2="124.5"/>
<line class="ax" x1="728" y1="90.5" x2="737" y2="90.5"/>
<text transform="translate(739,505.0) scale(0.9,1)" class="al" fill="#000000" stroke="#000000">0.0</text>
<text transform="translate(739,470.8) scale(0.9,1)" class="al" fill="#000000" stroke="#000000">5.0</text>
<text transform="translate(739,436.7) scale(0.9,1)" class="al" fill="#000000" stroke="#000000">10.0</text>
<text transform="translate(739,402.5) scale(0.9,1)" class="al" fill="#000000" stroke="#000000">15.0</text>
<text transform="translate(739,368.3) scale(0.9,1)" class="al" fill="#000000" stroke="#000000">20.0</text>
<text transform="translate(739,334.2) scale(0.9,1)" class="al" fill="#000000" stroke="#000000">25.0</text>
<text transform="translate(739,300.0) scale(0.9,1)" class="al" fill="#000000" stroke="#000000">30.0</text>
<text transform="translate(739,265.8) scale(0.9,1)" class="al" fill="#000000" stroke="#000000">35.0</text>
<text transform="translate(739,231.7) scale(0.9,1)" class="al" fill="#000000" stroke="#000000">40.0</text>
<text transform="translate(739,197.5) scale(0.9,1)" class="al" fill="#000000" stroke="#000000">45.0</text>
<text transform="translate(739,163.3) scale(0.9,1)" class="al" fill="#000000" stroke="#000000">50.0</text>
<text transform="translate(739,129.2) scale(0.9,1)" class="al" fill="#000000" stroke="#000000">55.0</text>
<text transform="translate(739,95.0) scale(0.9,1)" class="al" fill="#000000" stroke="#000000">60.0</text>
<text transform="translate(732,78.5) scale(0.895,1)" fill="#000000" stroke="#000000">km/h</text>
<line class="ax" x1="769.5" y1="90" x2="769.5" y2="501"/>
<line class="ax" x1="765" y1="500.5" x2="774" y2="500.5"/>
<line class="ax" x1="769" y1="459.5" x2="774" y2="459.5"/>
<line class="ax" x1="769" y1="418.5" x2="774" y2="418.5"/>
<line class="ax" x1="769" y1="377.5" x2="774" y2="377.5"/>
<line class="ax" x1="769" y1="336.5" x2="774" y2="336.5"/>
<line class="ax" x1="769" y1="295.5" x2="774" y2="295.5"/>
<line class="ax" x1="769" y1="254.5" x2="774" y2="254.5"/>
<line class="ax" x1="769" y1="213.5" x2="774" y2="213.5"/>
<line class="ax" x1="769" y1="172.5" x2="774" y2="172.5"/>
<line class="ax" x1="769" y1="131.5" x2="774" y2="131.5"/>
<line class="ax" x1="765" y1="90.5" x2="774" y2="90.5"/>
<text transform="translate(776.5,505.0) scale(0.9,1)" class="al" fill="#ff8000" stroke="#ff8000">0</text>
<text transform="translate(776.5,464.0) scale(0.9,1)" class="al" fill="#ff8000" stroke="#ff8000">10</text>
<text transform="translate(776.5,423.0) scale(0.9,1)" class="al" fill="#ff8000" stroke="#ff8000">20</text>
<text transform="translate(776.5,382.0) scale(0.9,1)" class="al" fill="#ff8000" stroke="#ff8000">30</text>
<text transform="translate(776.5,341.0) scale(0.9,1)" class="al" fill="#ff8000" stroke="#ff8000">40</text>
<text transform="translate(776.5,300.0) scale(0.9,1)" class="al" fill="#ff8000" stroke="#ff8000">50</text>
<text transform="translate(776.5,259.0) scale(0.9,1)" class="al" fill="#ff8000" stroke="#ff8000">60</text>
<text transform="translate(776.5,218.0) scale(0.9,1)" class="al" fill="#ff8000" stroke="#ff8000">70</text>
<text transform="translate(776.5,177.0) scale(0.9,1)" class="al" fill="#ff8000" stroke="#ff8000">80</text>
<text transform="translate(776.5,136.0) scale(0.9,1)" class="al" fill="#ff8000" stroke="#ff8000">90</text>
<text transform="translate(776.5,95.0) scale(0.9,1)" class="al" fill="#ff8000" stroke="#ff8000">100</text>
<text transform="translate(769.5,78.5) scale(0.895,1)" fill="#ff8000" stroke="#ff8000">min</text>
<line class="ax" x1="806.5" y1="90" x2="806.5" y2="501"/>
<line class="ax" x1="802" y1="500.5" x2="811" y2="500.5"/>
<line class="ax" x1="806" y1="480.5" x2="811" y2="480.5"/>
<line class="ax" x1="806" y1="459.5" x2="811" y2="459.5"/>
<line class="ax" x1="806" y1="438.5" x2="811" y2="438.5"/>
<line class="ax" x1="806" y1="418.5" x2="811" y2="418.5"/>
<line class="ax" x1="806" y1="398.5" x2="811" y2="398.5"/>
<line class="ax" x1="806" y1="377.5" x2="811" y2="377.5"/>
<line class="ax" x1="806" y1="356.5" x2="811" y2="356.5"/>
<line class="ax" x1="806" y1="336.5" x2="811" y2="336.5"/>
<line class="ax" x1="806" y1="316.5" x2="811" y2="316.5"/>
<line class="ax" x1="806" y1="295.5" x2="811" y2="295.5"/>
<line class="ax" x1="806" y1="274.5" x2="811" y2="274.5"/>
<line class="ax" x1="806" y1="254.5" x2="811" y2="254.5"/>
<line class="ax" x1="806" y1="234.5" x2="811" y2="234.5"/>
<line class="ax" x1="806" y1="213.5" x2="811" y2="213.5"/>
<line class="ax" x1="806" y1="192.5" x2="811" y2="192.5"/>
<line class="ax" x1="806" y1="172.5" x2="811" y2="172.5"/>
<line class="ax" x1="806" y1="152.5" x2="811" y2="152.5"/>
<line class="ax" x1="806" y1="131.5" x2="811" y2="131.5"/>
<line class="ax" x1="806" y1="110.5" x2="811" y2="110.5"/>
<line class="ax" x1="802" y1="90.5" x2="811" y2="90.5"/>
<text transform="translate(812.5,505.0) scale(0.9,1)" class="al" fill="#ffa080" stroke="#ffa080">0</text>
<text transform="translate(812.5,484.5) scale(0.9,1)" class="al" fill="#ffa080" stroke="#ffa080">50</text>
<text transform="translate(812.5,464.0) scale(0.9,1)" class="al" fill="#ffa080" stroke="#ffa080">100</text>
<text transform="translate(812.5,443.5) scale(0.9,1)" class="al" fill="#ffa080" stroke="#ffa080">150</text>
<text transform="translate(812.5,423.0) scale(0.9,1)" class="al" fill="#ffa080" stroke="#ffa080">200</text>
<text transform="translate(812.5,402.5) scale(0.9,1)" class="al" fill="#ffa080" stroke="#ffa080">250</text>
<text transform="translate(812.5,382.0) scale(0.9,1)" class="al" fill="#ffa080" stroke="#ffa080">300</text>
<text transform="translate(812.5,361.5) scale(0.9,1)" class="al" fill="#ffa080" stroke="#ffa080">350</text>
<text transform="translate(812.5,341.0) scale(0.9,1)" class="al" fill="#ffa080" stroke="#ffa080">400</text>
<text transform="translate(812.5,320.5) scale(0.9,1)" class="al" fill="#ffa080" stroke="#ffa080">450</text>
<text transform="translate(812.5,300.0) scale(0.9,1)" class="al" fill="#ffa080" stroke="#ffa080">500</text>
<text transform="translate(812.5,279.5) scale(0.9,1)" class="al" fill="#ffa080" stroke="#ffa080">550</text>
<text transform="translate(812.5,259.0) scale(0.9,1)" class="al" fill="#ffa080" stroke="#ffa080">600</text>
<text transform="translate(812.5,238.5) scale(0.9,1)" class="al" fill="#ffa080" stroke="#ffa080">650</text>
<text transform="translate(812.5,218.0) scale(0.9,1)" class="al" fill="#ffa080" stroke="#ffa080">700</text>
<text transform="translate(812.5,197.5) scale(0.9,1)" class="al" fill="#ffa080" stroke="#ffa080">750</text>
<text transform="translate(812.5,177.0) scale(0.9,1)" class="al" fill="#ffa080" stroke="#ffa080">800</text>
<text transform="translate(812.5,156.5) scale(0.9,1)" class="al" fill="#ffa080" stroke="#ffa080">850</text>
<text transform="translate(812.5,136.0) scale(0.9,1)" class="al" fill="#ffa080" stroke="#ffa080">900</text>
<text transform="translate(812.5,115.5) scale(0.9,1)" class="al" fill="#ffa080" stroke="#ffa080">950</text>
<text transform="translate(812.5,95.0) scale(0.9,1)" class="al" fill="#ffa080" stroke="#ffa080">1000</text>
<text transform="translate(806.5,78.5) scale(0.895,1)" fill="#ffa080" stroke="#ffa080">W/m²</text>
<line class="ax" x1="188.5" y1="501" x2="188.5" y2="505"/>
<text transform="translate(189.5,518.8) scale(0.9,1)" fill="#000" stroke="#000" text-anchor="middle">00:00</text>
<line class="ax" x1="227.5" y1="501" x2="227.5" y2="505"/>
<text transform="translate(228.5,518.8) scale(0.9,1)" fill="#000" stroke="#000" text-anchor="middle">02:00</text>
<line class="ax" x1="266.5" y1="501" x2="266.5" y2="505"/>
<text transform="translate(267.5,518.8) scale(0.9,1)" fill="#000" stroke="#000" text-anchor="middle">04:00</text>
<line class="ax" x1="306.5" y1="501" x2="306.5" y2="505"/>
<text transform="translate(307.5,518.8) scale(0.9,1)" fill="#000" stroke="#000" text-anchor="middle">06:00</text>
<line class="ax" x1="345.5" y1="501" x2="345.5" y2="505"/>
<text transform="translate(346.5,518.8) scale(0.9,1)" fill="#000" stroke="#000" text-anchor="middle">08:00</text>
<line class="ax" x1="384.5" y1="501" x2="384.5" y2="505"/>
<text transform="translate(385.5,518.8) scale(0.9,1)" fill="#000" stroke="#000" text-anchor="middle">10:00</text>
<line class="ax" x1="423.5" y1="501" x2="423.5" y2="505"/>
<text transform="translate(424.5,518.8) scale(0.9,1)" fill="#000" stroke="#000" text-anchor="middle">12:00</text>
<line class="ax" x1="462.5" y1="501" x2="462.5" y2="505"/>
<text transform="translate(463.5,518.8) scale(0.9,1)" fill="#000" stroke="#000" text-anchor="middle">14:00</text>
<line class="ax" x1="501.5" y1="501" x2="501.5" y2="505"/>
<text transform="translate(502.5,518.8) scale(0.9,1)" fill="#000" stroke="#000" text-anchor="middle">16:00</text>
<line class="ax" x1="540.5" y1="501" x2="540.5" y2="505"/>
<text transform="translate(541.5,518.8) scale(0.9,1)" fill="#000" stroke="#000" text-anchor="middle">18:00</text>
<line class="ax" x1="580.5" y1="501" x2="580.5" y2="505"/>
<text transform="translate(581.5,518.8) scale(0.9,1)" fill="#000" stroke="#000" text-anchor="middle">20:00</text>
<line class="ax" x1="619.5" y1="501" x2="619.5" y2="505"/>
<text transform="translate(620.5,518.8) scale(0.9,1)" fill="#000" stroke="#000" text-anchor="middle">22:00</text>
<line class="ax" x1="658.5" y1="501" x2="658.5" y2="505"/>
<text transform="translate(659.5,518.8) scale(0.9,1)" fill="#000" stroke="#000" text-anchor="middle">24:00</text>
<rect x="336" y="496" width="2" height="13" fill="#ffff00" shape-rendering="crispEdges"/>
<rect x="376" y="500" width="2" height="9" fill="#808080" shape-rendering="crispEdges"/>
<rect x="535" y="496" width="2" height="13" fill="#ffff00" shape-rendering="crispEdges"/>
<rect x="636" y="496" width="2" height="13" fill="#808080" shape-rendering="crispEdges"/>
<text transform="translate(10,529.8) scale(0.9,1)" fill="#000" stroke="#000">10:10</text>
<path d="M40 529 V526.5 Q40.5 523 44.5 522.8 Q48.5 523 49 526.5 V529 Z" fill="#ffff00"/>
<text transform="translate(303,529.8) scale(0.9,1)" fill="#000" stroke="#000">07:35</text>
<g stroke="#ffff80" stroke-width="1"><line x1="332.5" y1="521" x2="342" y2="530.5"/><line x1="342" y1="521" x2="332.5" y2="530.5"/><line x1="337.2" y1="519.5" x2="337.2" y2="532"/><line x1="331" y1="525.7" x2="343.5" y2="525.7"/></g>
<circle cx="337" cy="526" r="3.4" fill="#ffff00"/>
<text transform="translate(384,529.8) scale(0.9,1)" fill="#000" stroke="#000">09:38</text>
<path d="M374.8 520 h2.2 v4.2 h1.4 l-2.5 4.4 l-2.5 -4.4 h1.4 z" fill="#ffff00"/>
<path d="M373 523 l2 4 M379 528.5 h4" stroke="#4040c0" stroke-width="1" stroke-dasharray="1 1" fill="none"/>
<text transform="translate(502.5,529.8) scale(0.9,1)" fill="#000" stroke="#000">17:45</text>
<rect x="533.5" y="523.5" width="5" height="5" fill="none" stroke="#ffff60" stroke-width="1"/>
<text transform="translate(643.5,529.8) scale(0.9,1)" fill="#000" stroke="#000">22:54</text>
<rect x="632.5" y="520.5" width="5" height="5" fill="none" stroke="#2020a0" stroke-width="1" stroke-dasharray="1 1"/>
<path d="M639.5 522.3 L642.2 527 H640.6 V530.6 H638.4 V527 H636.8 Z" fill="#ffff00"/>
<rect x="0" y="539" width="845" height="76" fill="#c0c0c0" shape-rendering="crispEdges"/>
<rect x="87" y="539" width="1" height="76" fill="#ffffff" shape-rendering="crispEdges"/>
<rect x="88" y="539" width="1" height="76" fill="#a09880" shape-rendering="crispEdges"/>
<rect x="204" y="539" width="1" height="76" fill="#ffffff" shape-rendering="crispEdges"/>
<rect x="205" y="539" width="1" height="76" fill="#a09880" shape-rendering="crispEdges"/>
<rect x="322" y="539" width="1" height="76" fill="#ffffff" shape-rendering="crispEdges"/>
<rect x="323" y="539" width="1" height="76" fill="#a09880" shape-rendering="crispEdges"/>
<rect x="440" y="539" width="1" height="76" fill="#ffffff" shape-rendering="crispEdges"/>
<rect x="441" y="539" width="1" height="76" fill="#a09880" shape-rendering="crispEdges"/>
<rect x="558" y="539" width="1" height="76" fill="#ffffff" shape-rendering="crispEdges"/>
<rect x="559" y="539" width="1" height="76" fill="#a09880" shape-rendering="crispEdges"/>
<rect x="676" y="539" width="1" height="76" fill="#ffffff" shape-rendering="crispEdges"/>
<rect x="677" y="539" width="1" height="76" fill="#a09880" shape-rendering="crispEdges"/>
<rect x="794" y="539" width="1" height="76" fill="#ffffff" shape-rendering="crispEdges"/>
<rect x="795" y="539" width="1" height="76" fill="#a09880" shape-rendering="crispEdges"/>
<rect x="844" y="538" width="1" height="77" fill="#a09880" shape-rendering="crispEdges"/>
<text transform="translate(8.5,557) scale(0.98,1)" fill="#000" stroke="#000" class="b">Sensor</text>
<text transform="translate(8.5,573) scale(0.98,1)" fill="#000" stroke="#000" class="b">MinWert</text>
<text transform="translate(8.5,589) scale(0.98,1)" fill="#000" stroke="#000" class="b">MaxWert</text>
<text transform="translate(8.5,605) scale(0.98,1)" fill="#000" stroke="#000" class="b">Durchschnitt</text>
<text transform="translate(8.5,621.6) scale(0.98,1)" fill="#000" stroke="#000" class="b">15.02. 23:55</text>
<text transform="translate(95,557) scale(0.98,1)" fill="#000" stroke="#000" class="b">T- 2m aktiv</text>
<text transform="translate(198.5,557) scale(0.98,1)" fill="#000" stroke="#000" class="b" text-anchor="end">°C</text>
<text transform="translate(100.5,573) scale(0.9,1)" fill="#000" stroke="#000">07:40</text>
<text transform="translate(198.5,573) scale(0.9,1)" fill="#000" stroke="#000" text-anchor="end">-2.9</text>
<text transform="translate(100.5,589) scale(0.9,1)" fill="#000" stroke="#000">15:50</text>
<text transform="translate(198.5,589) scale(0.9,1)" fill="#000" stroke="#000" text-anchor="end">10.3</text>
<text transform="translate(100.5,605) scale(0.9,1)" fill="#000" stroke="#000">(+ 0.31 )</text>
<text transform="translate(198.5,605) scale(0.9,1)" fill="#000" stroke="#000" text-anchor="end">2.81</text>
<text transform="translate(198.5,621.6) scale(0.98,1)" fill="#000" stroke="#000" class="b" text-anchor="end">1.5</text>
<text transform="translate(213,557) scale(0.98,1)" fill="#000" stroke="#000" class="b">F- 2m aktiv</text>
<text transform="translate(315.5,557) scale(0.98,1)" fill="#000" stroke="#000" class="b" text-anchor="end">%</text>
<text transform="translate(219,573) scale(0.9,1)" fill="#000" stroke="#000">15:50</text>
<text transform="translate(315.5,573) scale(0.9,1)" fill="#000" stroke="#000" text-anchor="end">60</text>
<text transform="translate(219,589) scale(0.9,1)" fill="#000" stroke="#000">08:40</text>
<text transform="translate(315.5,589) scale(0.9,1)" fill="#000" stroke="#000" text-anchor="end">94</text>
<text transform="translate(315.5,605) scale(0.9,1)" fill="#000" stroke="#000" text-anchor="end">81</text>
<text transform="translate(217,621.6) scale(0.895,1)" fill="#000" stroke="#000">4.79 g/m³</text>
<text transform="translate(315.5,621.6) scale(0.98,1)" fill="#000" stroke="#000" class="b" text-anchor="end">88</text>
<text transform="translate(330,557) scale(0.98,1)" fill="#000" stroke="#000" class="b">Luftdruck</text>
<text transform="translate(435.5,557) scale(0.98,1)" fill="#000" stroke="#000" class="b" text-anchor="end">hPa</text>
<text transform="translate(336.5,573) scale(0.9,1)" fill="#000" stroke="#000">00:00</text>
<text transform="translate(435.5,573) scale(0.9,1)" fill="#000" stroke="#000" text-anchor="end">1032.2</text>
<text transform="translate(336.5,589) scale(0.9,1)" fill="#000" stroke="#000">10:00</text>
<text transform="translate(435.5,589) scale(0.9,1)" fill="#000" stroke="#000" text-anchor="end">1035.4</text>
<text transform="translate(330,605) scale(0.895,1)" fill="#000" stroke="#000">^0.8hPa/h</text>
<text transform="translate(435.5,605) scale(0.9,1)" fill="#000" stroke="#000" text-anchor="end">1033.7</text>
<text transform="translate(335.5,621.6) scale(0.895,1)" fill="#000" stroke="#000">rückläufig</text>
<text transform="translate(435.5,621.6) scale(0.98,1)" fill="#000" stroke="#000" class="b" text-anchor="end">1033.2</text>
<text transform="translate(448.5,557) scale(0.98,1)" fill="#000" stroke="#000" class="b">Windböen</text>
<text transform="translate(552,557) scale(0.98,1)" fill="#000" stroke="#000" class="b" text-anchor="end">km/h</text>
<text transform="translate(448.5,573) scale(0.895,1)" fill="#000" stroke="#000">Ø 10 min.</text>
<text transform="translate(552,573) scale(0.9,1)" fill="#000" stroke="#000" text-anchor="end">0.0</text>
<text transform="translate(454.5,589) scale(0.9,1)" fill="#000" stroke="#000">11:40</text>
<text transform="translate(552,589) scale(0.895,1)" fill="#000" stroke="#000" text-anchor="end">O 9.7</text>
<text transform="translate(552,605) scale(0.9,1)" fill="#000" stroke="#000" text-anchor="end">0.8</text>
<text transform="translate(454.5,621.6) scale(0.895,1)" fill="#000" stroke="#000">0.0% N</text>
<text transform="translate(552,621.6) scale(0.98,1)" fill="#000" stroke="#000" class="b" text-anchor="end">0.0</text>
<text transform="translate(566.5,557) scale(0.98,1)" fill="#000" stroke="#000" class="b">Regen</text>
<text transform="translate(670.5,557) scale(0.98,1)" fill="#000" stroke="#000" class="b" text-anchor="end">l/m²</text>
<text transform="translate(566.5,573) scale(0.895,1)" fill="#000" stroke="#000">7:10 h</text>
<text transform="translate(572.5,589) scale(0.9,1)" fill="#000" stroke="#000">00:00</text>
<text transform="translate(670.5,589) scale(0.9,1)" fill="#000" stroke="#000" text-anchor="end">0.0</text>
<text transform="translate(566.5,605) scale(0.895,1)" fill="#000" stroke="#000">Gesamt:</text>
<text transform="translate(670.5,605) scale(0.9,1)" fill="#000" stroke="#000" text-anchor="end">0.0</text>
<text transform="translate(572.5,621.6) scale(0.895,1)" fill="#000" stroke="#000">0.0 l/m²</text>
<text transform="translate(670.5,621.6) scale(0.98,1)" fill="#000" stroke="#000" class="b" text-anchor="end">0.0</text>
<text transform="translate(684.5,557) scale(0.98,1)" fill="#000" stroke="#000" class="b">PMV-1:2</text>
<text transform="translate(684.5,573) scale(0.895,1)" fill="#000" stroke="#000">WC 1.5 °C</text>
<text transform="translate(684.5,589) scale(0.895,1)" fill="#000" stroke="#000">TP -0.1 °C</text>
<text transform="translate(684.5,605) scale(0.895,1)" fill="#000" stroke="#000">0.0hPa/3h</text>
<text transform="translate(684.5,621.6) scale(0.895,1)" fill="#000" stroke="#000">0.0hPa/1h</text>
</svg></body></html>
